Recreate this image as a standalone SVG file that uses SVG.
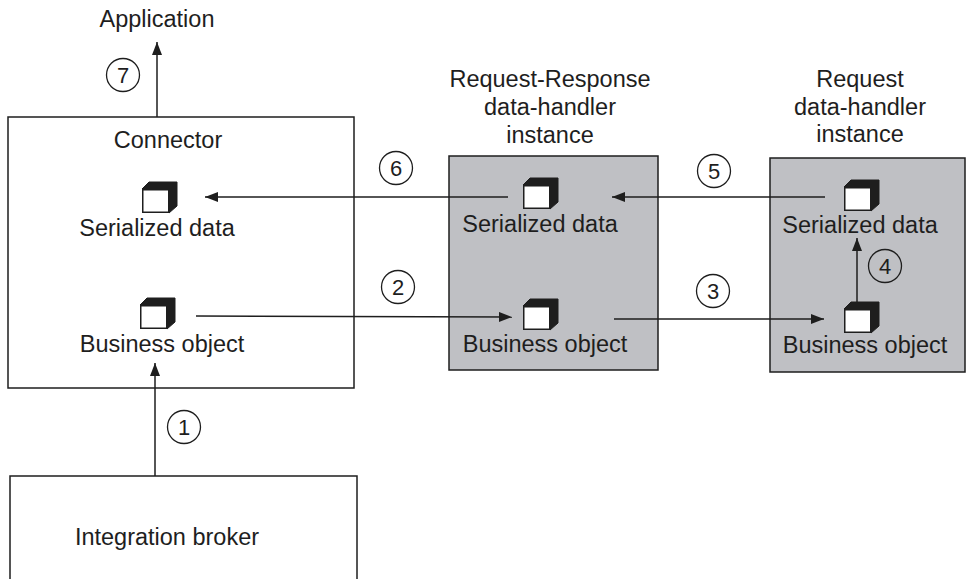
<svg xmlns="http://www.w3.org/2000/svg" xmlns:xlink="http://www.w3.org/1999/xlink" width="966" height="579" viewBox="0 0 966 579">
<style>
text{font-family:"Liberation Sans",Arial,Helvetica,sans-serif;font-size:23.5px;fill:#1e1e1e;text-anchor:middle}
.box{fill:#fff;stroke:#1e1e1e;stroke-width:1.5}
.grey{fill:#bfc0c4;stroke:#1e1e1e;stroke-width:1.5}
.edge{stroke:#1e1e1e;stroke-width:1.5;fill:none;marker-end:url(#arr)}
.num circle{fill:none;stroke:#1e1e1e;stroke-width:1.3}
.num text{font-size:22px}
</style>
<defs>
<marker id="arr" markerUnits="userSpaceOnUse" markerWidth="14" markerHeight="12" refX="13" refY="5" orient="auto">
<path d="M0,0 L13,5 L0,10 z" fill="#1e1e1e"/>
</marker>
<g id="cube">
<path d="M0,7 L7,0 L35,0 L35,24 L27,31 L27,7 z" fill="#1e1e1e" stroke="#1e1e1e" stroke-width="1" stroke-linejoin="round"/>
<rect x="0.75" y="7.75" width="26" height="22.5" fill="#fff" stroke="#1e1e1e" stroke-width="1.5"/>
</g>
</defs>

<g id="application">
<text x="157" y="27">Application</text>
</g>

<g id="connector">
<rect class="box" x="8" y="117" width="346" height="271"/>
<text x="168" y="148">Connector</text>
<use xlink:href="#cube" x="142" y="182"/>
<text x="157" y="236">Serialized data</text>
<use xlink:href="#cube" x="140" y="298"/>
<text x="162" y="352">Business object</text>
</g>

<g id="integration-broker">
<rect class="box" x="10" y="476" width="347" height="110"/>
<text x="167" y="545">Integration broker</text>
</g>

<g id="request-response-handler">
<text x="550" y="87">Request-Response</text>
<text x="550" y="115">data-handler</text>
<text x="550" y="143">instance</text>
<rect class="grey" x="449" y="156" width="209" height="214"/>
<use xlink:href="#cube" x="523" y="178"/>
<text x="540" y="232">Serialized data</text>
<use xlink:href="#cube" x="523" y="299"/>
<text x="545" y="352">Business object</text>
</g>

<g id="request-handler">
<text x="860" y="87">Request</text>
<text x="860" y="115">data-handler</text>
<text x="860" y="142">instance</text>
<rect class="grey" x="770" y="158" width="195" height="214"/>
<use xlink:href="#cube" x="844" y="180"/>
<text x="860" y="233">Serialized data</text>
<use xlink:href="#cube" x="844" y="302"/>
<text x="865" y="353">Business object</text>
</g>

<g id="connectors">
<line class="edge" x1="157" y1="117" x2="157" y2="42"/>
<line class="edge" x1="508" y1="197" x2="205" y2="197"/>
<line class="edge" x1="825" y1="197" x2="612" y2="197"/>
<line class="edge" x1="196" y1="316" x2="512" y2="317"/>
<line class="edge" x1="614" y1="319" x2="824" y2="319"/>
<line class="edge" x1="857" y1="302" x2="857" y2="238"/>
<line class="edge" x1="155" y1="476" x2="155" y2="363"/>
</g>

<g id="step-labels" class="num">
<circle cx="123" cy="75" r="16.5"/><text x="123" y="83">7</text>
<circle cx="396" cy="168" r="16.5"/><text x="396" y="176">6</text>
<circle cx="714" cy="171" r="16.5"/><text x="714" y="179">5</text>
<circle cx="398" cy="287" r="16.5"/><text x="398" y="295">2</text>
<circle cx="713" cy="291" r="16.5"/><text x="713" y="299">3</text>
<circle cx="885" cy="266" r="16.5"/><text x="885" y="274">4</text>
<circle cx="184" cy="427" r="16.5"/><text x="184" y="435">1</text>
</g>
</svg>
